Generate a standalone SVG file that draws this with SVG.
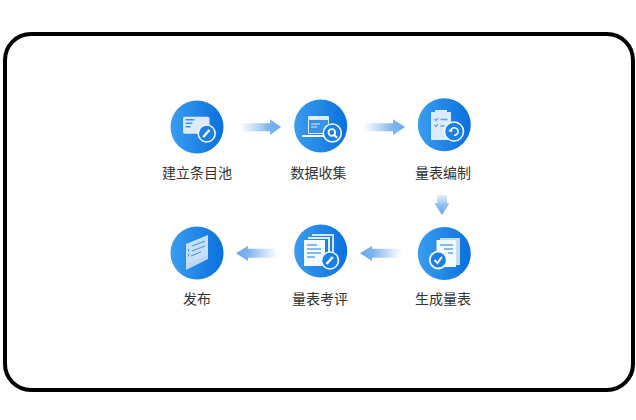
<svg xmlns="http://www.w3.org/2000/svg" width="636" height="420" viewBox="0 0 636 420">
<defs>
<linearGradient id="disc" x1="0" y1="0" x2="1" y2="0"><stop offset="0" stop-color="#3a9df0"/><stop offset="1" stop-color="#0a70dc"/></linearGradient>
<linearGradient id="toR" x1="0" y1="0" x2="1" y2="0"><stop offset="0" stop-color="#8fc0f2" stop-opacity="0"/><stop offset="0.7" stop-color="#7db5ef"/><stop offset="1" stop-color="#69aaec"/></linearGradient>
<linearGradient id="toL" x1="1" y1="0" x2="0" y2="0"><stop offset="0" stop-color="#8fc0f2" stop-opacity="0"/><stop offset="0.7" stop-color="#7db5ef"/><stop offset="1" stop-color="#69aaec"/></linearGradient>
<linearGradient id="toD" x1="0" y1="0" x2="0" y2="1"><stop offset="0" stop-color="#a9cff5" stop-opacity="0.35"/><stop offset="0.5" stop-color="#8fc0f2"/><stop offset="1" stop-color="#69aaec"/></linearGradient>
</defs>
<style>
text{font-family:"Noto Sans CJK SC","Noto Sans",sans-serif;font-size:14px;fill:#333;text-anchor:middle}
.d{fill:url(#disc)}
.w{fill:#f4f9fe}
.p{fill:#dcebfb}
.b{fill:#3a92e8}
.l{stroke:#5aa5ee;stroke-width:1.3;fill:none}
.lw{stroke:#fff;stroke-width:1.5;fill:none}
.ring{fill:#1a80e4;stroke:#eef5fd;stroke-width:1.6}
</style>
<rect x="5" y="34" width="628" height="356" rx="26" ry="26" fill="#fff" stroke="#000" stroke-width="4"/>
<g id="connectors">
<path d="M240 123.300H270V119.300L281 127L270 135V131.300H240Z" fill="url(#toR)"/>
<path d="M363 123.300H393V119.300L405 127L393 135V131.300H363Z" fill="url(#toR)"/>
<path d="M437 195H447V203H449.500L442 215L434 203H437Z" fill="url(#toD)"/>
<path d="M402 248.800H372V245.700L360 253.300L372 261V257.800H402Z" fill="url(#toL)"/>
<path d="M278 248.800H248V245.700L236 253.300L248 261V257.800H278Z" fill="url(#toL)"/>
</g>
<g id="node-1">
<circle class="d" cx="197" cy="127" r="26.500"/>
<rect class="p" x="183" y="116.700" width="26.500" height="17" rx="2"/>
<path class="b" d="M185.500 119h9v1.500h-9zM185.500 122.500h7v1.500h-7zM185.500 126h5v1.500h-5z"/>
<circle class="ring" cx="206.700" cy="133.500" r="8.500"/>
<path d="M203.200 137L209.500 130" stroke="#fff" stroke-width="2.500"/>
<text x="197" y="178">建立条目池</text>
</g>
<g id="node-2">
<circle class="d" cx="320.700" cy="126" r="26.500"/>
<rect class="p" x="308" y="116" width="21" height="18" rx="1"/>
<rect x="309" y="120" width="19" height="13" fill="#3a92e8"/>
<path class="w" d="M310 117.500h2v1.500h-2zM313 117.500h2v1.500h-2zM316 117.500h2v1.500h-2z"/>
<path d="M311 124h9M311 127h6" stroke="#dcebfb" stroke-width="1.200"/>
<rect class="w" x="302" y="135" width="27" height="2" rx="1"/>
<circle class="ring" cx="332.300" cy="133" r="9"/>
<circle cx="331.800" cy="132.500" r="3.300" fill="none" stroke="#fff" stroke-width="1.800"/>
<path d="M334.300 135L337.300 138" stroke="#fff" stroke-width="2"/>
<text x="318.500" y="178">数据收集</text>
</g>
<g id="node-3">
<circle class="d" cx="444.300" cy="124.700" r="26.500"/>
<rect class="p" x="431" y="112" width="20" height="28" rx="1"/>
<rect class="p" x="435" y="110" width="12" height="4"/>
<path class="l" d="M434.500 119l1.500 1.500 2-2.500M440.500 119.500h7M434.500 125l1.500 1.500 2-2.500M440.500 126h4"/>
<circle class="ring" cx="454" cy="131.500" r="9.500"/>
<path class="lw" d="M450.500 131.500a3.800 3.800 0 1 1 3.500 3.800M450.500 131.500l-1.500-1.500M450.500 131.500l1.800-1.300"/>
<text x="443" y="178">量表编制</text>
</g>
<g id="node-4">
<circle class="d" cx="444.300" cy="253.600" r="26.500"/>
<rect x="440" y="238" width="20" height="27" fill="#c4ddf7"/>
<rect class="w" x="436.500" y="240" width="19.500" height="27"/>
<path class="l" d="M440 245h13M444 249h9M448 253h5"/>
<circle cx="438.300" cy="260" r="8.500" fill="#1a80e4" stroke="#eef5fd" stroke-width="1.800"/>
<path d="M434.500 260l3 3 4.300-6" stroke="#fff" stroke-width="1.900" fill="none"/>
<text x="443" y="304">生成量表</text>
</g>
<g id="node-5">
<circle class="d" cx="320.700" cy="251" r="26.500"/>
<path d="M312 234h22v25h-2v-23h-20z" fill="#cfe3f8"/>
<path d="M308 237h22v26h-2v-24h-20z" fill="#e4effb"/>
<rect class="w" x="304" y="240" width="21" height="26"/>
<path class="l" d="M307 245h10M307 249h14M307 253h14M307 257h8"/>
<circle class="ring" cx="330" cy="260.500" r="8.500"/>
<path d="M326.500 264L332.800 257" stroke="#fff" stroke-width="2.500"/>
<text x="320" y="304">量表考评</text>
</g>
<g id="node-6">
<circle class="d" cx="197" cy="253" r="26.500"/>
<path d="M186 262L208 254V259L186 270Z" fill="#bcd7f5"/>
<path d="M186 244L208 235V255L186 264Z" fill="#c9dff7"/>
<path d="M192 246L205 241M192 251L205 246M191 256L201 252M188.500 249v2.500M188.500 254v2.500" stroke="#4a9cec" stroke-width="1.100" fill="none"/>
<text x="197" y="304">发布</text>
</g>
</svg>
